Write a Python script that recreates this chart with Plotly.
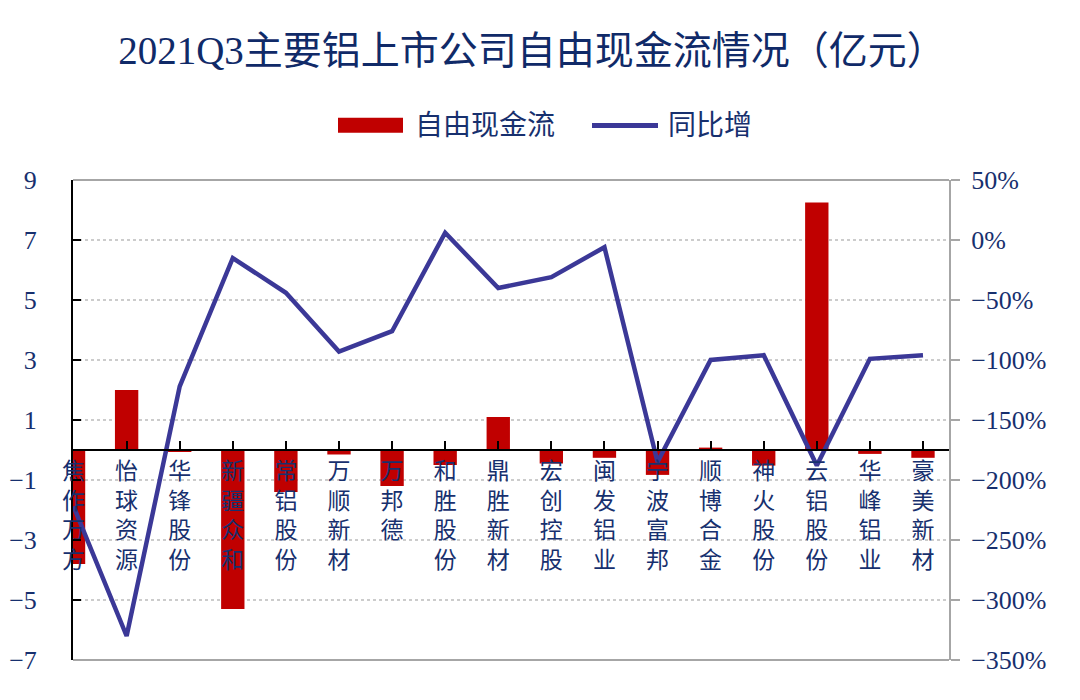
import plotly.graph_objects as go

# ---------------- data ----------------
companies = ["焦作万方", "怡球资源", "华锋股份", "新疆众和", "常铝股份", "万顺新材", "万邦德",
             "和胜股份", "鼎胜新材", "宏创控股", "闽发铝业", "宁波富邦", "顺博合金", "神火股份",
             "云铝股份", "华峰铝业", "豪美新材"]
free_cash_flow = [-3.8, 2.0, -0.05, -5.3, -1.4, -0.15, -1.2, -0.5, 1.1, -0.45, -0.26, -0.83,
                  0.08, -0.52, 8.25, -0.13, -0.26]
yoy_pct = [-222, -330, -122, -15, -44, -93, -76, 6, -40, -31, -6, -185, -100, -96, -188, -99, -96]

left_ticks = [9, 7, 5, 3, 1, -1, -3, -5, -7]
right_ticks = [50, 0, -50, -100, -150, -200, -250, -300, -350]
right_tick_labels = ["50%", "0%", "−50%", "−100%", "−150%", "−200%", "−250%", "−300%", "−350%"]

title_text = "2021Q3主要铝上市公司自由现金流情况（亿元）"
legend_names = ["自由现金流", "同比增"]

# ---------------- style ----------------
W, H = 1080, 700
OFF = 8  # page body margin offset
L, T = 73 - OFF, 180 - OFF
PW, PH = 876, 480
R = W - L - PW
B = H - T - PH
NAVY = "#17306e"
RED = "#c00000"
BLUE = "#3b3897"
GRAY = "#a6a6a6"
FONT = "Liberation Serif, Noto Sans CJK SC"


def px(x):
    return (x - OFF - L) / PW


def py(y):
    return (T + PH - (y - OFF)) / PH


fig = go.Figure()
fig.add_trace(go.Bar(x=companies, y=free_cash_flow, name=legend_names[0],
                     marker=dict(color=RED, line=dict(width=0)), width=0.44,
                     showlegend=False))
fig.add_trace(go.Scatter(x=companies, y=yoy_pct, name=legend_names[1], yaxis="y2",
                         mode="lines", line=dict(color=BLUE, width=4.5),
                         showlegend=False))

ticktext_x = ["<br>".join(list(c)) for c in companies]

fig.update_layout(
    width=W, height=H,
    margin=dict(l=L, r=R, t=T, b=B, autoexpand=False),
    paper_bgcolor="white", plot_bgcolor="white",
    font=dict(family=FONT, color=NAVY),
    title=dict(text=title_text, x=px(532), xref="paper", xanchor="center",
               y=1 - (50 - OFF) / H, yanchor="middle", automargin=False,
               font=dict(family=FONT, size=39, color="#102a68")),
    xaxis=dict(type="category", range=[-0.01, 16.49], anchor="free",
               position=py(450), showline=True, linecolor="black", linewidth=2,
               ticks="inside", ticklen=8, tickwidth=2, tickcolor="black",
               tickmode="array", tickvals=companies, ticktext=ticktext_x,
               tickfont=dict(family=FONT, size=23, color=NAVY),
               ticklabelstandoff=0, showgrid=False, zeroline=False,
               tickangle=0, automargin=False),
    yaxis=dict(range=[-7, 9], tickvals=left_ticks, showline=True, linecolor="black",
               linewidth=2, ticks="inside", ticklen=8, tickwidth=2, tickcolor="black",
               tickfont=dict(family=FONT, size=26, color=NAVY),
               ticklabelstandoff=29, automargin=False,
               showgrid=True, gridcolor="#cccccc", gridwidth=1.5, griddash="dot",
               zeroline=False),
    yaxis2=dict(range=[-350, 50], tickmode="array", tickvals=right_ticks,
                ticktext=right_tick_labels,
                overlaying="y", side="right", showline=True, linecolor=GRAY,
                linewidth=2, ticks="outside", ticklen=9, tickwidth=2, tickcolor=GRAY,
                tickfont=dict(family=FONT, size=26, color=NAVY),
                ticklabelstandoff=6, showgrid=False, zeroline=False, automargin=False),
    showlegend=False,
)

# plot frame (top and bottom)
fig.add_shape(type="line", xref="paper", yref="paper", x0=0, x1=1, y0=1, y1=1,
              line=dict(color=GRAY, width=2))
fig.add_shape(type="line", xref="paper", yref="paper", x0=0, x1=1, y0=0, y1=0,
              line=dict(color=GRAY, width=2))

# legend
fig.add_shape(type="rect", xref="paper", yref="paper", x0=px(338), x1=px(403),
              y0=py(132.7), y1=py(117.7), fillcolor=RED, line=dict(width=0))
fig.add_annotation(xref="paper", yref="paper", x=px(413), y=py(125), text=legend_names[0],
                   showarrow=False, xanchor="left", yanchor="middle",
                   font=dict(family=FONT, size=28, color=NAVY))
fig.add_shape(type="line", xref="paper", yref="paper", x0=px(592), x1=px(658),
              y0=py(125.5), y1=py(125.5), line=dict(color=BLUE, width=5))
fig.add_annotation(xref="paper", yref="paper", x=px(666), y=py(125), text=legend_names[1],
                   showarrow=False, xanchor="left", yanchor="middle",
                   font=dict(family=FONT, size=28, color=NAVY))

fig.write_html("out.html")
